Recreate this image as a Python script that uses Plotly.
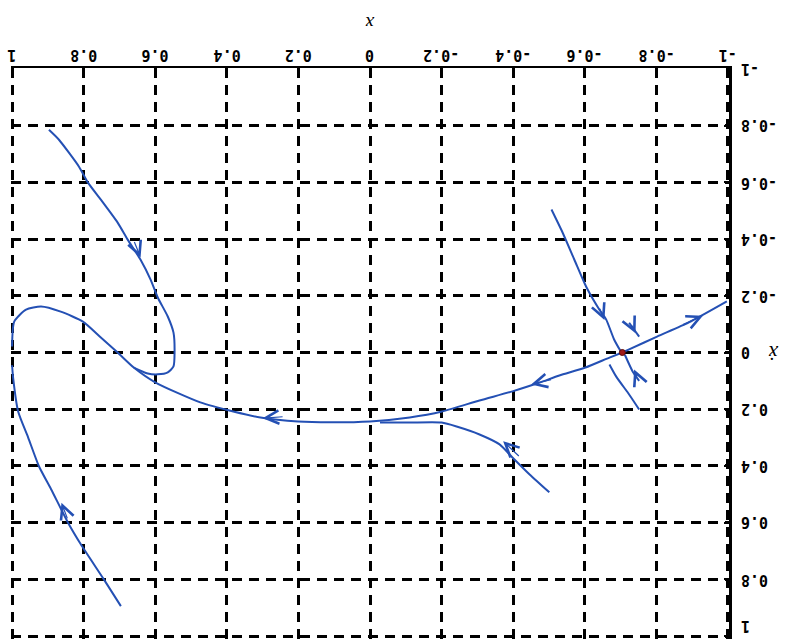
import plotly.graph_objects as go

# Phase-plane trajectories (x, x-dot)
eq_x, eq_y = [-0.705], [0.0]

main_x = [-0.705, -0.669, -0.602, -0.529, -0.474, -0.398, -0.306, -0.201, -0.111, 0.0,
          0.111, 0.201, 0.306, 0.382, 0.474, 0.599, 0.660, 0.705, 0.752, 0.802,
          0.864, 0.919, 0.961, 0.994, 1.0]
main_y = [0.0, 0.018, 0.053, 0.081, 0.106, 0.137, 0.169, 0.208, 0.229, 0.243,
          0.246, 0.243, 0.229, 0.208, 0.176, 0.106, 0.053, 0.0, -0.053, -0.109,
          -0.144, -0.162, -0.151, -0.109, -0.021]

upper_left_x = [0.897, 0.869, 0.813, 0.788, 0.752, 0.705, 0.677, 0.641, 0.613, 0.593,
                0.565, 0.549, 0.546, 0.549, 0.565, 0.593, 0.621, 0.660]
upper_left_y = [-0.785, -0.75, -0.655, -0.599, -0.539, -0.458, -0.398, -0.327, -0.257, -0.194,
                -0.127, -0.070, 0.0, 0.049, 0.070, 0.077, 0.074, 0.053]

lower_right_x = [-0.501, -0.446, -0.398, -0.362, -0.306, -0.242, -0.200, -0.110, -0.028]
lower_right_y = [0.493, 0.430, 0.370, 0.324, 0.289, 0.261, 0.247, 0.247, 0.247]

lower_left_x = [1.0, 0.997, 0.983, 0.955, 0.925, 0.891, 0.844, 0.808, 0.744, 0.696]
lower_left_y = [0.045, 0.09, 0.208, 0.30, 0.401, 0.482, 0.599, 0.676, 0.799, 0.894]

stable_top_x = [-0.507, -0.538, -0.571, -0.604, -0.641, -0.660, -0.682, -0.700]
stable_top_y = [-0.504, -0.423, -0.327, -0.232, -0.151, -0.116, -0.046, -0.005]

stable_bottom_x = [-0.752, -0.724, -0.688, -0.669]
stable_bottom_y = [0.201, 0.148, 0.085, 0.042]

unstable_right_x = [-0.705, -0.724, -0.802, -0.891, -0.997]
unstable_right_y = [0.0, -0.011, -0.056, -0.106, -0.180]

stub_low_x = [-0.712, -0.735, -0.752]
stub_low_y = [0.008, 0.07, 0.10]

stub_up_x = [-0.724, -0.752]
stub_up_y = [-0.105, -0.056]

# Direction arrows: tip and tail points along the flow
arrow_tip_x = [-0.93, 0.641, -0.45, 0.30, -0.372, 0.862, -0.655, -0.738, -0.742]
arrow_tip_y = [-0.130, -0.335, 0.113, 0.232, 0.313, 0.530, -0.115, 0.060, -0.068]
arrow_tail_x = [-0.87, 0.660, -0.51, 0.24, -0.420, 0.844, -0.640, -0.748, -0.730]
arrow_tail_y = [-0.096, -0.395, 0.094, 0.226, 0.370, 0.590, -0.160, 0.090, -0.100]

x_ticks = [-1, -0.8, -0.6, -0.4, -0.2, 0, 0.2, 0.4, 0.6, 0.8, 1]
x_tick_text = ["-1", "-0.8", "-0.6", "-0.4", "-0.2", "0", "0.2", "0.4", "0.6", "0.8", "1"]
y_ticks = x_ticks
y_tick_text = x_tick_text

line_color = "#2450b4"

fig = go.Figure()
for xs, ys in [(main_x, main_y), (upper_left_x, upper_left_y), (lower_right_x, lower_right_y),
               (lower_left_x, lower_left_y), (stable_top_x, stable_top_y),
               (stable_bottom_x, stable_bottom_y), (unstable_right_x, unstable_right_y),
               (stub_low_x, stub_low_y), (stub_up_x, stub_up_y)]:
    fig.add_trace(go.Scatter(x=xs, y=ys, mode="lines",
                             line=dict(color=line_color, width=2, shape="spline", smoothing=0.6),
                             hoverinfo="skip", showlegend=False))

fig.add_trace(go.Scatter(x=eq_x, y=eq_y, mode="markers",
                         marker=dict(color="#a01818", size=6, line=dict(color="#5a0a0a", width=1)),
                         showlegend=False))

for tx, ty, sx, sy in zip(arrow_tip_x, arrow_tip_y, arrow_tail_x, arrow_tail_y):
    fig.add_annotation(x=tx, y=ty, ax=sx, ay=sy, xref="x", yref="y", axref="x", ayref="y",
                       text="", showarrow=True, arrowhead=5, arrowsize=2.2, arrowwidth=1.2,
                       arrowcolor=line_color, standoff=0)

tick_font = dict(family="DejaVu Sans Mono", size=15, color="black", weight="bold")

# Upside-down tick labels, drawn as rotated text next to each axis
for v, t in zip(x_ticks, x_tick_text):
    fig.add_annotation(x=v, y=1.0, xref="x", yref="paper", yshift=13, text=t,
                       showarrow=False, textangle=180, xanchor="center", yanchor="middle",
                       font=tick_font, borderpad=0)
for v, t in zip(y_ticks, y_tick_text):
    # the label at the lower end sits flush against the bottom edge of the page
    anchor = "bottom" if v == max(y_ticks) else "middle"
    fig.add_annotation(x=1.0, y=v, xref="paper", yref="y", xshift=11, text=t,
                       showarrow=False, textangle=180, xanchor="left", yanchor=anchor,
                       font=tick_font, borderpad=0)

fig.update_xaxes(range=[1.003, -1.003], side="top", tickvals=x_ticks, showticklabels=False,
                 ticks="inside", ticklen=5, tickwidth=2,
                 tickcolor="black", showline=True, linecolor="black", linewidth=2,
                 showgrid=True, gridcolor="black", gridwidth=2.5, griddash="10px,7px",
                 zeroline=False, mirror=False)
fig.update_yaxes(range=[1.01, -1.003], side="right", tickvals=y_ticks, showticklabels=False,
                 ticks="inside", ticklen=5, tickwidth=2,
                 tickcolor="black", showline=True, linecolor="black", linewidth=3,
                 showgrid=True, gridcolor="black", gridwidth=2.5, griddash="10px,7px",
                 zeroline=False, mirror=False)

fig.add_annotation(text="x", xref="paper", yref="paper", x=0.5, y=1.0, yshift=57,
                   showarrow=False, textangle=180,
                   font=dict(family="Liberation Serif", size=19, color="black", style="italic"))
fig.add_annotation(text="x\u0307", xref="paper", yref="paper", x=1.0, y=0.5, xshift=52,
                   showarrow=False, textangle=180,
                   font=dict(family="Liberation Serif", size=21, color="black", style="italic"))

fig.update_layout(width=806, height=643, margin=dict(l=11, r=77, t=68, b=4),
                  plot_bgcolor="white", paper_bgcolor="white")

fig.write_html("out.html")
